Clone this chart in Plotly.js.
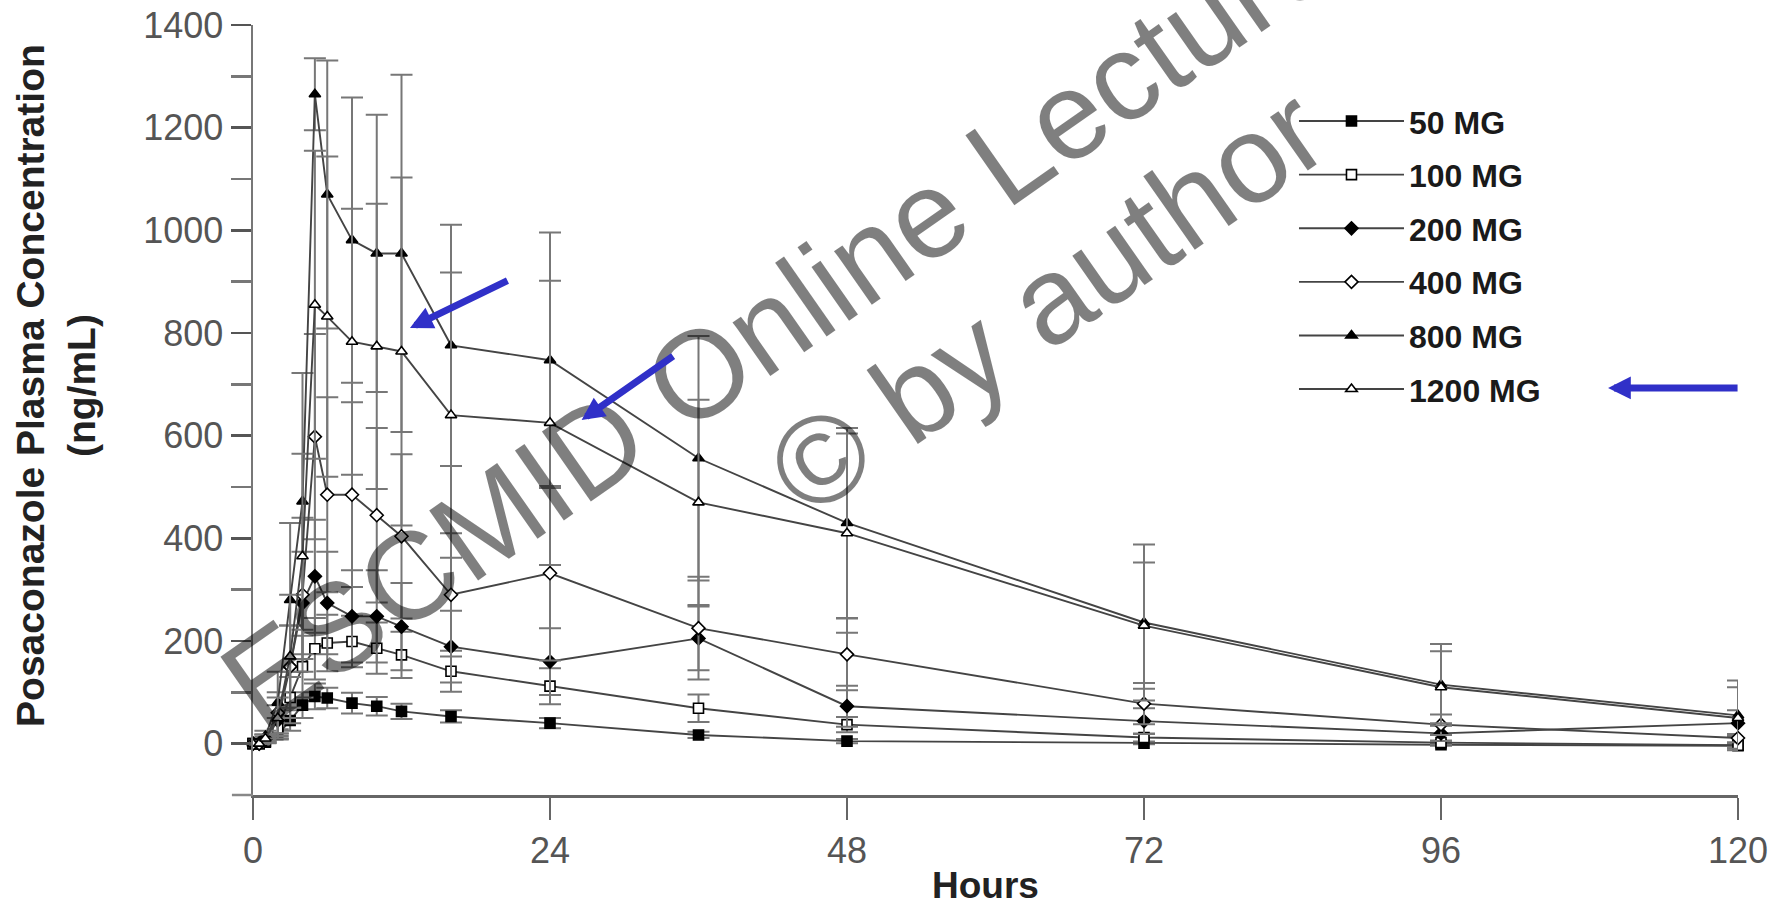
<!DOCTYPE html>
<html>
<head>
<meta charset="utf-8">
<script src="https://cdn.plot.ly/plotly-3.0.1.min.js"></script>
<style>
html,body{margin:0;padding:0;background:#fff;}
#chart{width:1776px;height:902px;}
</style>
</head>
<body>
<div id="chart"></div>
<script>
// ---- data (hours after single oral dose) ----
const hours = [0, 0.5, 1, 2, 3, 4, 5, 6, 8, 10, 12, 16, 24, 36, 48, 72, 96, 120];

const mg50   = [0, 0, 3, 18, 45, 75, 92, 89, 79, 73, 63, 53, 40, 17, 5, 1, -2, -4];
const mg100  = [0, 0, 5, 30, 90, 150, 185, 196, 199, 186, 173, 141, 112, 69, 37, 12, 2, -3];
const mg200  = [0, 0, 8, 45, 150, 274, 326, 274, 248, 248, 228, 189, 160, 205, 73, 44, 20, 40];
const mg400  = [0, 0, 10, 60, 150, 290, 598, 485, 485, 445, 404, 290, 332, 225, 174, 78, 37, 11];
const mg800  = [0, 0, 15, 80, 280, 472, 1265, 1070, 981, 955, 955, 776, 747, 556, 430, 236, 115, 55];
const mg1200 = [0, 0, 10, 50, 170, 365, 855, 832, 783, 774, 764, 640, 625, 470, 410, 230, 110, 50];

const sd50   = [0, 0, 2, 10, 20, 25, 25, 20, 20, 18, 15, 12, 10, 6, 4, 2, 2, 2];
const sd100  = [0, 0, 3, 20, 50, 60, 60, 55, 50, 50, 45, 40, 35, 27, 15, 8, 4, 3];
const sd200  = [0, 0, 5, 30, 80, 100, 110, 100, 90, 90, 85, 70, 65, 62, 40, 25, 15, 25];
const sd400  = [0, 0, 8, 40, 80, 150, 200, 190, 180, 170, 160, 120, 170, 100, 70, 40, 20, 8];
const sd800  = [0, 0, 10, 60, 150, 250, 70, 261, 278, 270, 348, 235, 249, 238, 185, 152, 79, 68];
const sd1200 = [0, 0, 8, 40, 120, 200, 300, 312, 259, 278, 339, 278, 277, 200, 194, 123, 70, 60];

const seriesNames = ['50 MG', '100 MG', '200 MG', '400 MG', '800 MG', '1200 MG'];
const xTickVals = [0, 24, 48, 72, 96, 120];
const yTickVals = [0, 200, 400, 600, 800, 1000, 1200, 1400];

// ---- styling ----
const FONT = '"Liberation Sans", Arial, Helvetica, sans-serif';
const symbols = ['square', 'square', 'diamond', 'diamond', 'triangle-up', 'triangle-up'];
const filled  = [true, false, true, false, true, false];
const ys  = [mg50, mg100, mg200, mg400, mg800, mg1200];
const sds = [sd50, sd100, sd200, sd400, sd800, sd1200];

const traces = ys.map((y, i) => ({
  type: 'scatter',
  mode: 'lines+markers',
  name: seriesNames[i],
  legendgroup: 'g' + i,
  x: hours,
  y: y,
  line: {color: '#444', width: 1.9},
  marker: {
    symbol: symbols[i],
    size: 10,
    color: filled[i] ? '#000' : '#fff',
    line: {color: '#000', width: 1.6}
  },
  error_y: {type: 'data', array: sds[i], visible: true, color: '#777', thickness: 2, width: 11},
  cliponaxis: false
}));

const arrowColor = 'rgb(48,48,200)';
const layout = {
  width: 1776, height: 902,
  margin: {l: 253, r: 38, t: 25, b: 107},
  paper_bgcolor: '#fff', plot_bgcolor: '#fff',
  font: {family: FONT, color: '#222'},
  showlegend: true,
  legend: {
    x: 0.701, y: 0.9107, xanchor: 'left', yanchor: 'top',
    font: {family: FONT, size: 32, color: '#1a1a1a', weight: 'bold'},
    traceorder: 'grouped', tracegroupgap: 9, itemwidth: 105,
    bgcolor: 'rgba(0,0,0,0)'
  },
  xaxis: {
    range: [0, 120], tickvals: xTickVals, ticktext: xTickVals.map(String),
    showgrid: false, zeroline: false, showline: true, linecolor: '#666', linewidth: 2.5,
    ticks: 'outside', ticklen: 22, tickwidth: 2, tickcolor: '#666',
    tickfont: {family: FONT, size: 36, color: '#555'}, ticklabelstandoff: 0
  },
  yaxis: {
    range: [-100, 1400], tickvals: yTickVals, ticktext: yTickVals.map(String),
    showgrid: false, zeroline: false, showline: true, linecolor: '#777', linewidth: 2.5,
    ticks: 'outside', ticklen: 20, tickwidth: 2.5, tickcolor: '#555',
    minor: {tickvals: [100, 300, 500, 700, 900, 1100, 1300], ticks: 'outside', ticklen: 20, tickwidth: 2.5, tickcolor: '#777'},
    tickfont: {family: FONT, size: 36, color: '#555'}, ticklabelstandoff: 0
  },
  shapes: [
    {type: 'line', xref: 'paper', yref: 'paper', x0: -0.0142, x1: 0, y0: 0, y1: 0,
     line: {color: '#888', width: 2.5}}
  ],
  annotations: [
    {xref: 'paper', yref: 'paper', x: 0.4933, y: -0.118, xanchor: 'center', yanchor: 'middle', showarrow: false,
     text: '<b>Hours</b>', font: {family: FONT, size: 37, color: '#222'}},
    {xref: 'paper', yref: 'paper', x: -0.1327, y: 0.5325, xanchor: 'center', yanchor: 'middle', showarrow: false, textangle: -90,
     text: '<b>Posaconazole Plasma Concentration</b><br><b>(ng/mL)</b>',
     font: {family: FONT, size: 39, color: '#222'}},
    // watermark
    {xref: 'paper', yref: 'paper', x: 0.468, y: 0.7743, xanchor: 'center', yanchor: 'middle', showarrow: false, textangle: -35,
     text: 'ESCMID Online Lecture Library', font: {family: FONT, size: 124, color: 'rgba(0,0,0,0.5)'}},
    {xref: 'paper', yref: 'paper', x: 0.5344, y: 0.6422, xanchor: 'center', yanchor: 'middle', showarrow: false, textangle: -35,
     text: '© by author', font: {family: FONT, size: 124, color: 'rgba(0,0,0,0.5)'}},
    // blue arrows
    {xref: 'paper', yref: 'paper', x: 0.1057, y: 0.6065, ax: 99, ay: -48, text: '',
     showarrow: true, arrowhead: 2, arrowsize: 0.65, arrowwidth: 7, arrowcolor: arrowColor},
    {xref: 'paper', yref: 'paper', x: 0.2213, y: 0.487, ax: 93, ay: -65, text: '',
     showarrow: true, arrowhead: 2, arrowsize: 0.65, arrowwidth: 7, arrowcolor: arrowColor},
    {xref: 'paper', yref: 'paper', x: 0.9125, y: 0.5286, ax: 131, ay: 0, text: '',
     showarrow: true, arrowhead: 2, arrowsize: 0.65, arrowwidth: 7, arrowcolor: arrowColor}
  ]
};

Plotly.newPlot('chart', traces, layout, {displayModeBar: false, staticPlot: true});
</script>
</body>
</html>
